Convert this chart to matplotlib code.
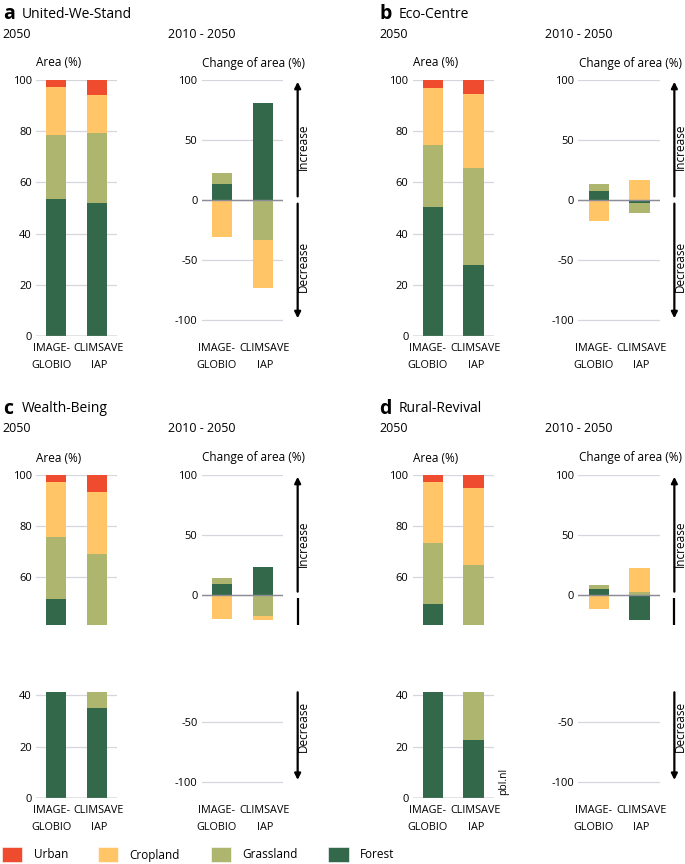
import numpy as np
import matplotlib.pyplot as plt
from matplotlib.patches import Rectangle

plt.rcParams['font.family'] = ['Open Sans', 'DejaVu Sans']

models = ["IMAGE-\nGLOBIO", "CLIMSAVE\nIAP"]
letters = ["a", "b", "c", "d"]
scenarios = ["United-We-Stand", "Eco-Centre", "Wealth-Being", "Rural-Revival"]
classes = ["Urban", "Cropland", "Grassland", "Forest"]
colors = {"Urban": "#EF4B2F", "Cropland": "#FFC566", "Grassland": "#ADB56E", "Forest": "#33684A"}

# land area share in 2050 (%), per scenario: [IMAGE-GLOBIO, CLIMSAVE IAP]
forest_2050 = [[53.4, 51.8], [50.4, 27.7], [51.5, 35.2], [49.7, 22.7]]
grass_2050 = [[25.2, 27.4], [24.3, 37.9], [24.4, 33.9], [23.8, 42.2]]
crop_2050 = [[18.8, 14.9], [22.3, 29.0], [21.5, 24.4], [23.8, 29.9]]
urban_2050 = [[2.6, 5.9], [3.0, 5.4], [2.6, 6.5], [2.7, 5.2]]

# change of area 2010-2050 (%)
forest_chg = [[13.6, 80.6], [7.5, -2.2], [8.9, 23.3], [4.7, -20.8]]
grass_chg = [[8.9, -33.3], [5.6, -8.4], [5.3, -17.8], [3.6, 2.2]]
crop_chg = [[-30.6, -39.8], [-17.2, 16.7], [-19.7, -3.0], [-11.4, 20.3]]

W, H = 685, 864
fig = plt.figure(figsize=(6.85, 8.64), dpi=100)

GRID = "#D6D6DE"
ZERO = "#8C8C98"
FS = 8


def px_axes(x0, y0, x1, y1):
    return fig.add_axes([x0 / W, 1 - y1 / H, (x1 - x0) / W, (y1 - y0) / H])


def ftext(x, y, s, **kw):
    fig.text(x / W, 1 - y / H, s, **kw)


def style(ax, ylim, ticks):
    ax.set_xlim(-0.5, 1.5)
    ax.set_ylim(*ylim)
    for sp in ax.spines.values():
        sp.set_visible(False)
    ax.set_yticks(ticks)
    ax.set_yticklabels([str(t) for t in ticks])
    ax.tick_params(axis="y", length=0, pad=3, labelsize=FS)
    ax.yaxis.grid(True, color=GRID, lw=0.9)
    ax.set_axisbelow(True)
    ax.set_xticks([])
    ax.patch.set_alpha(0)


def model_labels(x_left, y_mid):
    # model names under the bars, spread a little wider than the bars
    for lab, off in zip(models, [15, 63]):
        ftext(x_left + off, y_mid, lab, fontsize=7.8, ha="center", va="center",
              linespacing=1.7)


def area_bars(ax, i):
    x = np.arange(2)
    bottom = np.zeros(2)
    for name, vals in [("Forest", forest_2050[i]), ("Grassland", grass_2050[i]),
                       ("Cropland", crop_2050[i]), ("Urban", urban_2050[i])]:
        v = np.array(vals)
        ax.bar(x, v, 0.5, bottom=bottom, color=colors[name], lw=0)
        bottom = bottom + v


def change_bars(ax, i):
    x = np.arange(2)
    pos = np.zeros(2)
    neg = np.zeros(2)
    for name, vals in [("Forest", forest_chg[i]), ("Grassland", grass_chg[i]),
                       ("Cropland", crop_chg[i])]:
        v = np.array(vals)
        base = np.where(v >= 0, pos, neg)
        ax.bar(x, v, 0.5, bottom=base, color=colors[name], lw=0)
        pos = pos + np.where(v >= 0, v, 0)
        neg = neg + np.where(v < 0, v, 0)
    ax.axhline(0, color=ZERO, lw=1.0, zorder=3)


def arrow(ax, y0, y1, head=True):
    tr = ax.get_yaxis_transform()
    if head:
        ax.annotate("", xy=(1.176, y1), xytext=(1.176, y0), xycoords=tr, textcoords=tr,
                    arrowprops=dict(arrowstyle="-|>", lw=1.6, color="black",
                                    mutation_scale=9, shrinkA=0, shrinkB=0),
                    annotation_clip=False)
    else:
        ax.plot([1.176, 1.176], [y0, y1], transform=tr, color="black", lw=1.6,
                clip_on=False, solid_capstyle="butt")


for i in range(4):
    col, row = i % 2, i // 2
    dx = 376.7 * col
    dy = 395 * row

    ftext(2.7 + dx, 14 + dy, letters[i], fontsize=14, fontweight="bold", va="center")
    ftext(21.7 + dx, 14 + dy, scenarios[i], fontsize=10, va="center")
    ftext(2.7 + dx, 34 + dy, "2050", fontsize=9, va="center")
    ftext(168.3 + dx, 34 + dy, "2010 - 2050", fontsize=9, va="center")
    ftext(36 + dx, 63 + dy, "Area (%)", fontsize=8.5, va="center")
    ftext(202 + dx, 63 + dy, "Change of area (%)", fontsize=8.5, va="center")

    if row == 0:
        ax = px_axes(36 + dx, 80 + dy, 117 + dx, 336 + dy)
        area_bars(ax, i)
        style(ax, (0, 100), [0, 20, 40, 60, 80, 100])
        ax.axhline(0, color=ZERO, lw=1.0, zorder=3)

        cx = px_axes(201.7 + dx, 80 + dy, 283.3 + dx, 336 + dy)
        change_bars(cx, i)
        style(cx, (-113.3, 100), [-100, -50, 0, 50, 100])
        arrow(cx, 3, 98.5)
        arrow(cx, -3, -98.5)
        cx.text(1.25, 44, "Increase", transform=cx.get_yaxis_transform(), rotation=90,
                ha="center", va="center", fontsize=8.5, clip_on=False)
        cx.text(1.25, -55, "Decrease", transform=cx.get_yaxis_transform(), rotation=90,
                ha="center", va="center", fontsize=8.5, clip_on=False)
        y_lab = 357 + dy
    else:
        at = px_axes(36 + dx, 80 + dy, 117 + dx, 230 + dy)
        area_bars(at, i)
        style(at, (41.4, 100), [60, 80, 100])
        ab = px_axes(36 + dx, 297.3 + dy, 117 + dx, 402.7 + dy)
        area_bars(ab, i)
        style(ab, (0, 41.2), [0, 20, 40])
        ab.axhline(0, color=ZERO, lw=1.0, zorder=3)

        ct = px_axes(201.7 + dx, 80 + dy, 283.3 + dx, 230 + dy)
        change_bars(ct, i)
        style(ct, (-25, 100), [0, 50, 100])
        cb = px_axes(201.7 + dx, 297.3 + dy, 283.3 + dx, 402.7 + dy)
        style(cb, (-113.3, -25.5), [-100, -50])
        arrow(ct, 2.8, 98.5)
        arrow(ct, -2.8, -25, head=False)
        arrow(cb, -25.5, -98.5)
        ct.text(1.25, 43, "Increase", transform=ct.get_yaxis_transform(), rotation=90,
                ha="center", va="center", fontsize=8.5, clip_on=False)
        cb.text(1.25, -53.6, "Decrease", transform=cb.get_yaxis_transform(), rotation=90,
                ha="center", va="center", fontsize=8.5, clip_on=False)
        y_lab = 357 + dy + 67.3

    model_labels(36 + dx, y_lab)
    model_labels(201.7 + dx, y_lab)

ftext(503.3, 781.7, "pbl.nl", fontsize=7.5, rotation=90, ha="center", va="center")

# legend
leg_x = [1.7, 97.7, 210.7, 328.3]
for name, x in zip(classes, leg_x):
    fig.patches.append(Rectangle((x / W, 1 - 862.3 / H), 20.5 / W, 15 / H,
                                 transform=fig.transFigure, facecolor=colors[name],
                                 edgecolor="white", lw=0.4))
    ftext(x + 32, 855, name, fontsize=8.5, va="center")

fig.savefig("out.png", dpi=100)
